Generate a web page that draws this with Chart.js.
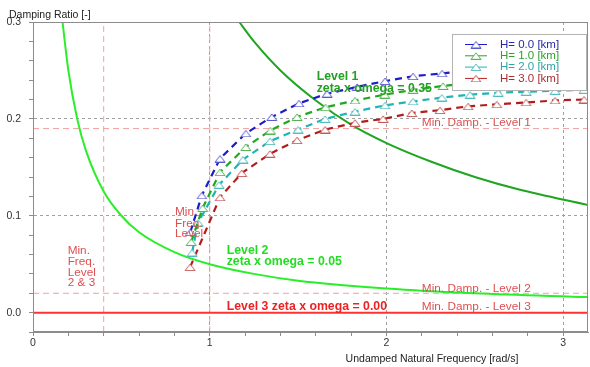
<!DOCTYPE html>
<html>
<head>
<meta charset="utf-8">
<script src="https://cdn.jsdelivr.net/npm/chart.js@4/dist/chart.umd.min.js"></script>
<style>
html, body { margin: 0; padding: 0; background: #fff; }
</style>
</head>
<body>
<canvas id="dampChart" width="590" height="367"></canvas>
<script>
// series: undamped natural frequency [rad/s] vs damping ratio [-]
const seriesNames = ['H= 0.0 [km]', 'H= 1.0 [km]', 'H= 2.0 [km]', 'H= 3.0 [km]'];

const omegaH0 = [0.89, 0.955, 1.058, 1.204, 1.351, 1.505, 1.664, 1.834, 1.992, 2.15, 2.315, 2.475, 2.635, 2.795, 2.955, 3.115];
const zetaH0  = [0.083, 0.121, 0.159, 0.185, 0.202, 0.216, 0.226, 0.233, 0.239, 0.244, 0.247, 0.250, 0.252, 0.254, 0.256, 0.257];

const omegaH1 = [0.895, 0.96, 1.058, 1.204, 1.343, 1.494, 1.655, 1.822, 1.99, 2.15, 2.32, 2.48, 2.64, 2.80, 2.96, 3.12];
const zetaH1  = [0.073, 0.108, 0.145, 0.171, 0.188, 0.202, 0.212, 0.219, 0.225, 0.230, 0.234, 0.237, 0.239, 0.241, 0.243, 0.244];

const omegaH2 = [0.90, 0.934, 1.053, 1.188, 1.341, 1.50, 1.653, 1.822, 1.992, 2.15, 2.313, 2.473, 2.632, 2.79, 2.954, 3.118];
const zetaH2  = [0.062, 0.093, 0.132, 0.158, 0.177, 0.189, 0.200, 0.2075, 0.214, 0.218, 0.222, 0.225, 0.227, 0.228, 0.229, 0.230];

const omegaH3 = [0.889, 1.058, 1.181, 1.341, 1.494, 1.653, 1.822, 1.981, 2.143, 2.303, 2.462, 2.624, 2.79, 2.954, 3.118];
const zetaH3  = [0.047, 0.119, 0.144, 0.164, 0.178, 0.189, 0.196, 0.200, 0.206, 0.209, 0.213, 0.215, 0.217, 0.219, 0.220];

// level boundary curves (zeta x omega = const)
const level1Omega = [1.167, 1.25, 1.4, 1.6, 1.8, 2.0, 2.25, 2.5, 2.75, 3.14];
const level1Zeta  = [0.300, 0.280, 0.250, 0.219, 0.194, 0.175, 0.156, 0.140, 0.127, 0.111];

const level2Omega = [0.167, 0.2, 0.25, 0.3, 0.4, 0.5, 0.6, 0.8, 1.0, 1.25, 1.5, 2.0, 2.5, 3.14];
const level2Zeta  = [0.300, 0.250, 0.200, 0.167, 0.125, 0.100, 0.083, 0.0625, 0.050, 0.040, 0.033, 0.025, 0.020, 0.016];

const level3Omega = [0, 3.14];
const level3Zeta  = [0, 0];

const minDampLevel1 = 0.19;
const minDampLevel23 = 0.02;
const minFreqLevel1 = 1.0;
const minFreqLevel23 = 0.4;

const xTickValues = [0, 0.2, 0.4, 0.6, 0.8, 1, 1.2, 1.4, 1.6, 1.8, 2, 2.2, 2.4, 2.6, 2.8, 3];
const yTickValues = [-0.02, 0, 0.02, 0.04, 0.06, 0.08, 0.1, 0.12, 0.14, 0.16, 0.18, 0.2, 0.22, 0.24, 0.26, 0.28, 0.3];

const X_MIN = 0, X_MAX = 3.14, Y_MIN = -0.02, Y_MAX = 0.3;
const FONT = "'Liberation Sans', Arial, sans-serif";

const lineColors   = ['#1c1cc8', '#20a820', '#20b4b4', '#b41c1c'];
const markerColors = ['#5a5ad0', '#55b555', '#55bcbc', '#c45a5a'];
const legendText   = ['#2a2aa8', '#2f9f2f', '#2fa5a5', '#a83030'];

function pts(xs, ys) {
    return xs.map((v, i) => ({ x: v, y: ys[i] }));
}

// hollow, slightly flattened triangle marker
function makeTriangle(color) {
    const c = document.createElement('canvas');
    c.width = 12; c.height = 8;
    const g = c.getContext('2d');
    g.beginPath();
    g.moveTo(1, 7.5);
    g.lineTo(6, 1);
    g.lineTo(11, 7.5);
    g.closePath();
    g.fillStyle = '#fff';
    g.fill();
    g.strokeStyle = color;
    g.lineWidth = 1;
    g.stroke();
    return c;
}
const markers = markerColors.map(makeTriangle);

function hSeries(i, xs, ys) {
    return {
        label: seriesNames[i],
        data: pts(xs, ys),
        showLine: true,
        borderColor: lineColors[i],
        borderWidth: 2.2,
        borderDash: [7, 5],
        pointStyle: markers[i],
        pointRadius: 5,
        tension: 0
    };
}

function refLine(data, color, width, dash, extra) {
    return Object.assign({
        data: data,
        showLine: true,
        borderColor: color,
        borderWidth: width,
        borderDash: dash,
        pointRadius: 0,
        tension: 0
    }, extra || {});
}

const datasets = [
    hSeries(0, omegaH0, zetaH0),
    hSeries(1, omegaH1, zetaH1),
    hSeries(2, omegaH2, zetaH2),
    hSeries(3, omegaH3, zetaH3),
    refLine(pts(level1Omega, level1Zeta), '#1fa51f', 2, [], { cubicInterpolationMode: 'monotone' }),
    refLine(pts(level2Omega, level2Zeta), '#2aee2a', 2, [], { cubicInterpolationMode: 'monotone' }),
    refLine(pts(level3Omega, level3Zeta), '#ff3232', 2, []),
    refLine([{ x: X_MIN, y: minDampLevel1 }, { x: X_MAX, y: minDampLevel1 }], '#f2a0a0', 1, [6, 4]),
    refLine([{ x: X_MIN, y: minDampLevel23 }, { x: X_MAX, y: minDampLevel23 }], '#f2a0a0', 1, [6, 4]),
    refLine([{ x: minFreqLevel1, y: Y_MIN }, { x: minFreqLevel1, y: Y_MAX }], '#f2a0a0', 1, [6, 4]),
    refLine([{ x: minFreqLevel23, y: Y_MIN }, { x: minFreqLevel23, y: Y_MAX }], '#f2a0a0', 1, [6, 4])
];

// text notes, anchored in data units
const boldNote = 'bold 12.3px ' + FONT;
const plainNote = '11.8px ' + FONT;
const notes = [
    { t: 'Level 1', x: 1.605, y: 0.2433, c: '#22a022', f: boldNote },
    { t: 'zeta x omega = 0.35', x: 1.605, y: 0.2314, c: '#22a022', f: boldNote },
    { t: 'Level 2', x: 1.096, y: 0.0642, c: '#22dd22', f: boldNote },
    { t: 'zeta x omega = 0.05', x: 1.096, y: 0.0529, c: '#22dd22', f: boldNote },
    { t: 'Level 3 zeta x omega = 0.00', x: 1.096, y: 0.0059, c: '#ee2222', f: boldNote },
    { t: 'Min. Damp. - Level 1', x: 2.2, y: 0.1962, c: '#dd5050', f: plainNote },
    { t: 'Min. Damp. - Level 2', x: 2.2, y: 0.0244, c: '#dd5050', f: plainNote },
    { t: 'Min. Damp. - Level 3', x: 2.2, y: 0.0065, c: '#dd5050', f: plainNote },
    { t: 'Min.', x: 0.8036, y: 0.1038, c: '#dd5050', f: plainNote },
    { t: 'Freq.', x: 0.8036, y: 0.0918, c: '#dd5050', f: plainNote },
    { t: 'Level', x: 0.8036, y: 0.0816, c: '#dd5050', f: plainNote },
    { t: 'Min.', x: 0.196, y: 0.0642, c: '#dd5050', f: plainNote },
    { t: 'Freq.', x: 0.196, y: 0.0526, c: '#dd5050', f: plainNote },
    { t: 'Level', x: 0.196, y: 0.0415, c: '#dd5050', f: plainNote },
    { t: '2 & 3', x: 0.196, y: 0.0312, c: '#dd5050', f: plainNote }
];

const overlay = {
    id: 'overlay',
    afterDatasetsDraw(chart) {
        const { ctx, chartArea: a, scales: { x, y } } = chart;
        ctx.save();

        // notes
        ctx.textBaseline = 'middle';
        ctx.textAlign = 'left';
        notes.forEach(n => {
            ctx.font = n.f;
            ctx.fillStyle = n.c;
            ctx.fillText(n.t, x.getPixelForValue(n.x), y.getPixelForValue(n.y));
        });

        // frame
        ctx.strokeStyle = '#8c8c8c';
        ctx.lineWidth = 1;
        ctx.strokeRect(a.left + 0.5, a.top + 0.5, a.right - a.left - 1, a.bottom - a.top - 1);

        // legend box inside the plot
        const bx = 452.5, by = 34.5, bw = 134, bh = 56;
        ctx.fillStyle = '#fff';
        ctx.fillRect(bx, by, bw, bh);
        ctx.strokeStyle = '#b4b4b4';
        ctx.strokeRect(bx, by, bw, bh);
        ctx.font = '11.5px ' + FONT;
        seriesNames.forEach((name, i) => {
            const ry = 44.5 + i * 11.3;
            ctx.strokeStyle = lineColors[i];
            ctx.lineWidth = 1;
            ctx.beginPath();
            ctx.moveTo(465, ry);
            ctx.lineTo(487, ry);
            ctx.stroke();
            ctx.drawImage(markers[i], 476 - 6, ry - 4);
            ctx.fillStyle = legendText[i];
            ctx.fillText(name, 500, ry);
        });

        // axis titles
        ctx.fillStyle = '#222';
        ctx.font = '10.5px ' + FONT;
        ctx.textAlign = 'left';
        ctx.fillText('Damping Ratio [-]', 9, 15.5);
        ctx.textAlign = 'center';
        ctx.fillText('Undamped Natural Frequency [rad/s]', 432, 359);
        ctx.restore();
    }
};

const isWhole = v => Math.abs(v - Math.round(v)) < 1e-6;
const isTenth = v => Math.abs(v * 10 - Math.round(v * 10)) < 1e-6;

new Chart(document.getElementById('dampChart').getContext('2d'), {
    type: 'scatter',
    data: { datasets: datasets },
    options: {
        responsive: false,
        animation: false,
        events: [],
        layout: { autoPadding: false, padding: { top: 22, right: 2, left: 0, bottom: 0 } },
        plugins: { legend: { display: false }, tooltip: { enabled: false } },
        scales: {
            x: {
                type: 'linear',
                min: X_MIN,
                max: X_MAX,
                afterBuildTicks: s => { s.ticks = xTickValues.map(v => ({ value: v })); },
                afterFit: s => { s.height = 35; s.paddingLeft = 0; s.paddingRight = 0; },
                ticks: {
                    autoSkip: false,
                    maxRotation: 0,
                    padding: 1,
                    color: '#333',
                    font: { family: FONT, size: 10.5 },
                    callback: v => isWhole(v) ? String(Math.round(v)) : ''
                },
                grid: {
                    color: c => (c.tick && c.tick.value > 0 && isWhole(c.tick.value)) ? '#a0a0a0' : 'transparent',
                    tickColor: '#8c8c8c',
                    tickLength: 4
                },
                border: { display: true, color: '#8c8c8c', dash: [3, 3] }
            },
            y: {
                type: 'linear',
                min: Y_MIN,
                max: Y_MAX,
                afterBuildTicks: s => { s.ticks = yTickValues.map(v => ({ value: v })); },
                afterFit: s => { s.width = 33; },
                ticks: {
                    autoSkip: false,
                    padding: 8,
                    color: '#333',
                    font: { family: FONT, size: 10.5 },
                    callback: v => isTenth(v) ? v.toFixed(1) : ''
                },
                grid: {
                    color: c => (c.tick && c.tick.value > 0.05 && c.tick.value < 0.29 && isTenth(c.tick.value)) ? '#a0a0a0' : 'transparent',
                    tickColor: '#8c8c8c',
                    tickLength: 4
                },
                border: { display: true, color: '#8c8c8c', dash: [3, 3] }
            }
        }
    },
    plugins: [overlay]
});
</script>
</body>
</html>
